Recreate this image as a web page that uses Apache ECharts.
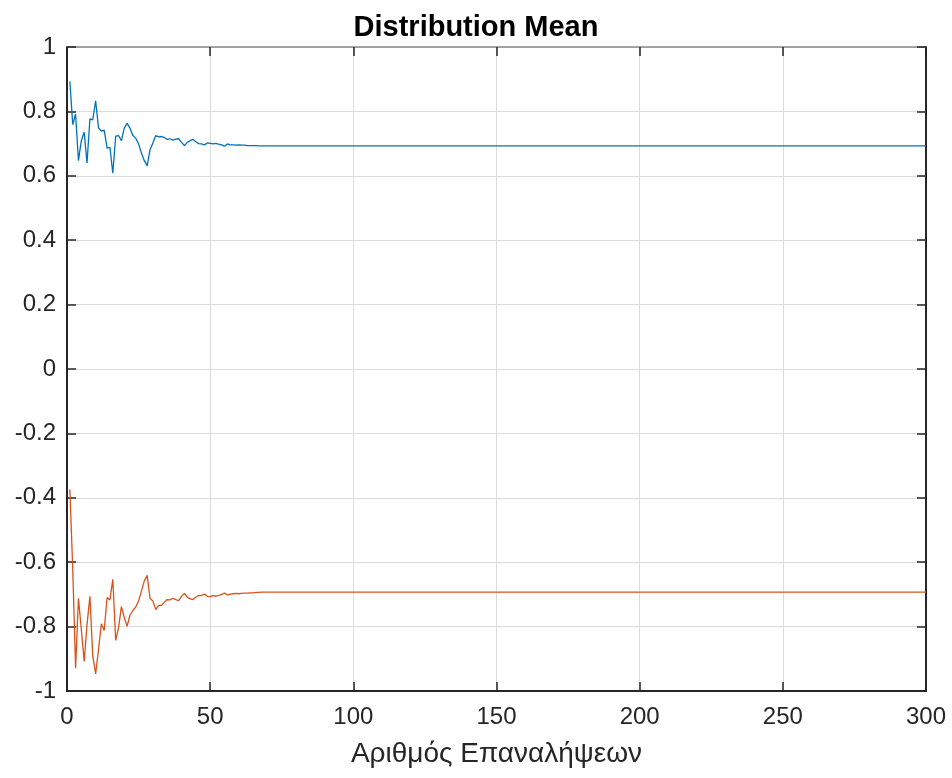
<!DOCTYPE html>
<html>
<head>
<meta charset="utf-8">
<script src="https://cdn.jsdelivr.net/npm/echarts@6/dist/echarts.min.js"></script>
<style>
  html, body { margin: 0; padding: 0; background: #fff; }
  #chart { width: 952px; height: 778px; }
</style>
</head>
<body>
<div id="chart"></div>
<script>
// Iteration numbers (dense while the estimates settle, sparse once flat)
const iterations = [
  1, 2, 3, 4, 5, 6, 7, 8, 9, 10,
  11, 12, 13, 14, 15, 16, 17, 18, 19, 20,
  21, 22, 23, 24, 25, 26, 27, 28, 29, 30,
  31, 32, 33, 34, 35, 36, 37, 38, 39, 40,
  41, 42, 43, 44, 45, 46, 47, 48, 49, 50,
  51, 52, 53, 54, 55, 56, 57, 58, 59, 60,
  61, 62, 63, 64, 65, 66, 67, 68, 69, 70,
  80, 90, 100, 150, 200, 250, 300
];

// Mean of the positive component
const meanPositive = [
  0.893, 0.759, 0.792, 0.647, 0.709, 0.735, 0.640, 0.777, 0.774, 0.833,
  0.749, 0.739, 0.742, 0.686, 0.688, 0.608, 0.723, 0.725, 0.709, 0.748,
  0.763, 0.748, 0.725, 0.717, 0.699, 0.671, 0.647, 0.631, 0.681, 0.702,
  0.725, 0.721, 0.722, 0.719, 0.713, 0.715, 0.711, 0.714, 0.715, 0.704,
  0.694, 0.704, 0.709, 0.713, 0.706, 0.700, 0.699, 0.696, 0.702, 0.701,
  0.699, 0.701, 0.698, 0.696, 0.692, 0.699, 0.696, 0.696, 0.695, 0.696,
  0.695, 0.695, 0.694, 0.694, 0.694, 0.694, 0.693, 0.693, 0.693, 0.693,
  0.6932, 0.6931, 0.6931, 0.6931, 0.6931, 0.6931, 0.6931
];

// Mean of the negative component
const meanNegative = [
  -0.374, -0.620, -0.929, -0.712, -0.809, -0.908, -0.794, -0.706, -0.892, -0.947,
  -0.872, -0.791, -0.812, -0.710, -0.717, -0.653, -0.843, -0.804, -0.738, -0.772,
  -0.799, -0.764, -0.750, -0.739, -0.721, -0.690, -0.658, -0.641, -0.712, -0.721,
  -0.747, -0.734, -0.734, -0.724, -0.716, -0.717, -0.712, -0.716, -0.719, -0.706,
  -0.697, -0.708, -0.714, -0.716, -0.708, -0.704, -0.703, -0.699, -0.706, -0.707,
  -0.704, -0.705, -0.703, -0.700, -0.696, -0.702, -0.699, -0.698, -0.697, -0.698,
  -0.697, -0.696, -0.696, -0.695, -0.695, -0.694, -0.694, -0.693, -0.693, -0.693,
  -0.6932, -0.6931, -0.6931, -0.6931, -0.6931, -0.6931, -0.6931
];

const titleText = 'Distribution Mean';
const xLabelText = 'Αριθμός Επαναλήψεων';

const FONT = '"Liberation Sans", Arial, Helvetica, sans-serif';
const INK = '#262626';

const pairs = (ys) => iterations.map((x, i) => [x, ys[i]]);

const chart = echarts.init(document.getElementById('chart'), null, { renderer: 'canvas' });

const tickStyle = { show: true, inside: true, length: 9, lineStyle: { color: INK, width: 1.5 } };

chart.setOption({
  animation: false,
  backgroundColor: '#ffffff',
  title: {
    text: titleText,
    left: 'center',
    top: 8,
    textStyle: { fontFamily: FONT, fontSize: 29, fontWeight: 'bold', color: '#000' }
  },
  grid: { left: 67, right: 26, top: 47, bottom: 87, containLabel: false },
  xAxis: [
    {
      type: 'value', position: 'bottom', min: 0, max: 300, interval: 50,
      name: xLabelText, nameLocation: 'middle', nameGap: 49,
      nameTextStyle: { fontFamily: FONT, fontSize: 28, color: INK },
      axisLine: { show: true, onZero: false, lineStyle: { color: INK, width: 2 } },
      axisTick: tickStyle,
      axisLabel: { margin: 14, fontFamily: FONT, fontSize: 24, color: INK },
      splitLine: { show: true, lineStyle: { color: '#dcdcdc', width: 1 } }
    },
    {
      type: 'value', position: 'top', min: 0, max: 300, interval: 50,
      axisLine: { show: true, onZero: false, lineStyle: { color: '#8a8a8a', width: 1.5 } },
      axisTick: tickStyle,
      axisLabel: { show: false },
      splitLine: { show: false }
    }
  ],
  yAxis: [
    {
      type: 'value', position: 'left', min: -1, max: 1, interval: 0.2,
      axisLine: { show: true, onZero: false, lineStyle: { color: INK, width: 2 } },
      axisTick: tickStyle,
      axisLabel: {
        margin: 11, fontFamily: FONT, fontSize: 24, color: INK,
        formatter: (v) => String(Math.round(v * 10) / 10)
      },
      splitLine: { show: true, lineStyle: { color: '#dcdcdc', width: 1 } }
    },
    {
      type: 'value', position: 'right', min: -1, max: 1, interval: 0.2,
      axisLine: { show: true, onZero: false, lineStyle: { color: INK, width: 2 } },
      axisTick: tickStyle,
      axisLabel: { show: false },
      splitLine: { show: false }
    }
  ],
  series: [
    {
      name: 'mean +', type: 'line', xAxisIndex: 0, yAxisIndex: 0,
      data: pairs(meanPositive), showSymbol: false, symbol: 'none',
      lineStyle: { color: '#0072BD', width: 1.3 }, itemStyle: { color: '#0072BD' }
    },
    {
      name: 'mean -', type: 'line', xAxisIndex: 0, yAxisIndex: 0,
      data: pairs(meanNegative), showSymbol: false, symbol: 'none',
      lineStyle: { color: '#D95319', width: 1.3 }, itemStyle: { color: '#D95319' }
    }
  ]
});
</script>
</body>
</html>
